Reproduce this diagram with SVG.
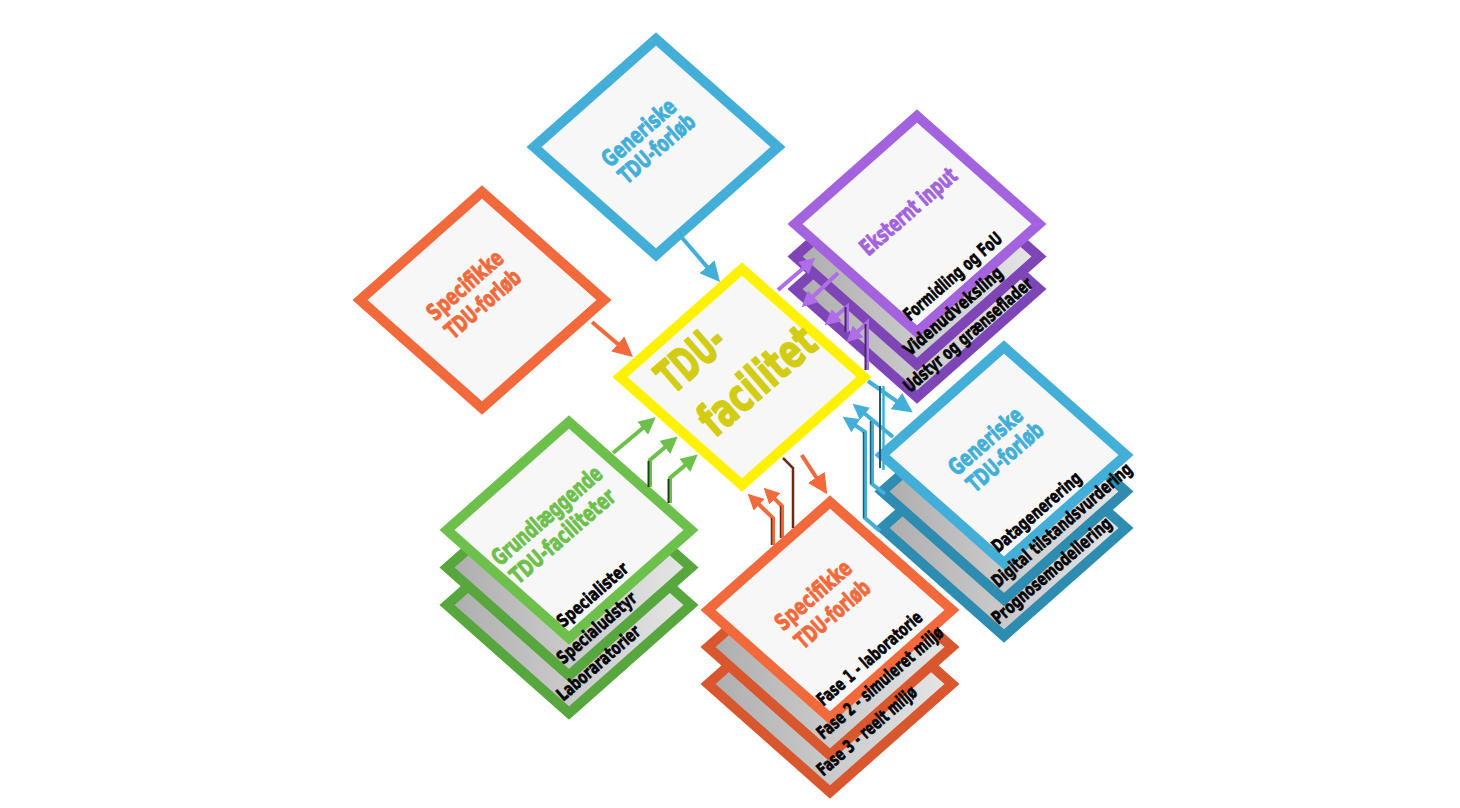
<svg xmlns="http://www.w3.org/2000/svg" width="1460" height="808" viewBox="0 0 1460 808">
<style>
.card{fill:#f7f7f7;stroke-width:10;stroke-linejoin:miter}
.lay{fill:url(#gray);stroke-width:10;stroke-linejoin:miter}
.bl{stroke:#43afd8}.bl2{stroke:#2e8cb0}
.or{stroke:#f26a3b}.or2{stroke:#d8572e}
.gr{stroke:#6ec04c}.gr2{stroke:#58a63e}
.pu{stroke:#a463de}.pu2{stroke:#7e45b6}
.ye{stroke:#fff200}
.t{font-family:"DejaVu Sans Condensed","Liberation Sans Narrow","DejaVu Sans","Liberation Sans",sans-serif;font-weight:bold;stroke-linejoin:round}
.ti{font-size:23px;stroke-width:0.9}
.lb{font-size:18px;fill:#000;stroke:#000;stroke-width:0.6}
.big{font-size:46px;fill:#d2cc12;stroke:#d2cc12;stroke-width:1.6}
.tb{fill:#43afd8;stroke:#43afd8}
.to{fill:#f26a3b;stroke:#f26a3b}
.tg{fill:#6ec04c;stroke:#6ec04c}
.tp{fill:#a463de;stroke:#a463de}
.c path{fill:none;stroke-width:4}
</style>
<defs>
<path id="rh" d="M0,-108 L122,0 L0,108 L-122,0 Z"/>
<linearGradient id="gray" x1="0" y1="0" x2="1" y2="0">
<stop offset="0" stop-color="#adadad"/><stop offset="1" stop-color="#e6e6e6"/>
</linearGradient>
<marker id="mbL" viewBox="0 0 10 10" refX="5" refY="5" markerWidth="20" markerHeight="20" markerUnits="userSpaceOnUse" orient="auto"><path d="M0,0L10,5L0,10z" fill="#43afd8"/></marker>
<marker id="mbS" viewBox="0 0 10 10" refX="5" refY="5" markerWidth="16" markerHeight="16" markerUnits="userSpaceOnUse" orient="auto"><path d="M0,0L10,5L0,10z" fill="#43afd8"/></marker>
<marker id="moL" viewBox="0 0 10 10" refX="5" refY="5" markerWidth="20" markerHeight="20" markerUnits="userSpaceOnUse" orient="auto"><path d="M0,0L10,5L0,10z" fill="#f26a3b"/></marker>
<marker id="moS" viewBox="0 0 10 10" refX="5" refY="5" markerWidth="16" markerHeight="16" markerUnits="userSpaceOnUse" orient="auto"><path d="M0,0L10,5L0,10z" fill="#f26a3b"/></marker>
<marker id="mgS" viewBox="0 0 10 10" refX="5" refY="5" markerWidth="17" markerHeight="17" markerUnits="userSpaceOnUse" orient="auto"><path d="M0,0L10,5L0,10z" fill="#6ec04c"/></marker>
<marker id="mpS" viewBox="0 0 10 10" refX="5" refY="5" markerWidth="16" markerHeight="16" markerUnits="userSpaceOnUse" orient="auto"><path d="M0,0L10,5L0,10z" fill="#b06ee6"/></marker>
</defs>
<rect width="1460" height="808" fill="#ffffff"/>

<g id="generiske-top">
<use href="#rh" class="card bl" transform="translate(656,147)"/>
<text class="t ti tb" transform="translate(610,168.3) rotate(-41)" textLength="90" lengthAdjust="spacingAndGlyphs">Generiske</text>
<text class="t ti tb" transform="translate(626.7,185) rotate(-41)" textLength="93" lengthAdjust="spacingAndGlyphs">TDU-forløb</text>
</g>

<g id="specifikke-left">
<use href="#rh" class="card or" transform="translate(482,300)"/>
<text class="t ti to" transform="translate(435,321.7) rotate(-41)" textLength="93" lengthAdjust="spacingAndGlyphs">Specifikke</text>
<text class="t ti to" transform="translate(453.3,340) rotate(-41)" textLength="92" lengthAdjust="spacingAndGlyphs">TDU-forløb</text>
</g>

<g id="eksternt-input">
<use href="#rh" class="lay pu2" transform="translate(917,289)"/>
<use href="#rh" class="lay pu2" transform="translate(917,256.5)"/>
<use href="#rh" class="card pu" transform="translate(917,224)"/>
<text class="t lb" transform="translate(910,393.3) rotate(-41)" textLength="164" lengthAdjust="spacingAndGlyphs">Udstyr og grænseflader</text>
<text class="t lb" transform="translate(910,356.7) rotate(-41)" textLength="125" lengthAdjust="spacingAndGlyphs">Videnudveksling</text>
<text class="t lb" transform="translate(910,321.7) rotate(-41)" textLength="124" lengthAdjust="spacingAndGlyphs">Formidling og FoU</text>
<text class="t ti tp" transform="translate(868.3,256.7) rotate(-41)" textLength="120" lengthAdjust="spacingAndGlyphs">Eksternt input</text>
</g>

<g id="generiske-right">
<use href="#rh" class="lay bl2" transform="translate(1004,528)"/>
<use href="#rh" class="lay bl2" transform="translate(1004,491.5)"/>
<use href="#rh" class="card bl" transform="translate(1004,455)"/>
<text class="t lb" transform="translate(998.3,625) rotate(-41)" textLength="152" lengthAdjust="spacingAndGlyphs">Prognosemodellering</text>
<text class="t lb" transform="translate(998.3,588.3) rotate(-41)" textLength="179" lengthAdjust="spacingAndGlyphs">Digital tilstandsvurdering</text>
<text class="t lb" transform="translate(998.3,553.3) rotate(-41)" textLength="112" lengthAdjust="spacingAndGlyphs">Datagenerering</text>
<text class="t ti tb" transform="translate(956.7,476.7) rotate(-41)" textLength="90" lengthAdjust="spacingAndGlyphs">Generiske</text>
<text class="t ti tb" transform="translate(975,493.3) rotate(-41)" textLength="93" lengthAdjust="spacingAndGlyphs">TDU-forløb</text>
</g>

<g id="specifikke-bottom">
<use href="#rh" class="lay or2" transform="translate(830,684)"/>
<use href="#rh" class="lay or2" transform="translate(830,647)"/>
<use href="#rh" class="card or" transform="translate(830,610)"/>
<text class="t lb" transform="translate(823.3,776.7) rotate(-41)" textLength="126" lengthAdjust="spacingAndGlyphs">Fase 3 - reelt miljø</text>
<text class="t lb" transform="translate(823.3,740) rotate(-41)" textLength="161" lengthAdjust="spacingAndGlyphs">Fase 2 - simuleret miljø</text>
<text class="t lb" transform="translate(823.3,706.7) rotate(-41)" textLength="133" lengthAdjust="spacingAndGlyphs">Fase 1 - laboratorie</text>
<text class="t ti to" transform="translate(783.3,631.7) rotate(-41)" textLength="93" lengthAdjust="spacingAndGlyphs">Specifikke</text>
<text class="t ti to" transform="translate(803.3,650) rotate(-41)" textLength="91" lengthAdjust="spacingAndGlyphs">TDU-forløb</text>
</g>

<g id="grundlaeggende">
<use href="#rh" class="lay gr2" transform="translate(569,605)"/>
<use href="#rh" class="lay gr2" transform="translate(569,567.5)"/>
<use href="#rh" class="card gr" transform="translate(569,530)"/>
<text class="t lb" transform="translate(563.3,701.7) rotate(-41)" textLength="104" lengthAdjust="spacingAndGlyphs">Laboraratorier</text>
<text class="t lb" transform="translate(563.3,665) rotate(-41)" textLength="99" lengthAdjust="spacingAndGlyphs">Specialudstyr</text>
<text class="t lb" transform="translate(563.3,628.3) rotate(-41)" textLength="88" lengthAdjust="spacingAndGlyphs">Specialister</text>
<text class="t ti tg" transform="translate(500,566.7) rotate(-41)" textLength="138" lengthAdjust="spacingAndGlyphs">Grundlæggende</text>
<text class="t ti tg" transform="translate(518.3,585) rotate(-41)" textLength="131" lengthAdjust="spacingAndGlyphs">TDU-faciliteter</text>
</g>

<g id="tdu-facilitet">
<use href="#rh" class="card ye" transform="translate(742,377)"/>
<text class="t big" transform="translate(673.3,395) rotate(-41)" textLength="75" lengthAdjust="spacingAndGlyphs">TDU-</text>
<text class="t big" transform="translate(715,438.3) rotate(-41)" textLength="139" lengthAdjust="spacingAndGlyphs">facilitet</text>
</g>

<g id="connectors" class="c">
<path d="M678,233 L713.5,274.4" stroke="#43afd8" marker-end="url(#mbL)"/>
<path d="M592,322 L625.4,350.5" stroke="#f26a3b" marker-end="url(#moL)"/>
<path d="M613,453 L649.2,422.8" stroke="#6ec04c" marker-end="url(#mgS)"/>
<path d="M650,487 L650,460 L671.3,441.9" stroke="#6ec04c" marker-end="url(#mgS)"/>
<path d="M670,503 L670,478 L691.3,459.9" stroke="#6ec04c" marker-end="url(#mgS)"/>
<path d="M648.5,487 L648.5,461" stroke="#24401a" style="stroke-width:2"/>
<path d="M668.5,503 L668.5,479" stroke="#24401a" style="stroke-width:2"/>
<path d="M778,290 L809.3,262.9" stroke="#b06ee6" marker-end="url(#mpS)"/>
<path d="M838,273 L807.5,301.8" stroke="#b06ee6" marker-end="url(#mpS)"/>
<path d="M847,332 L847,307 L830.8,320.2" stroke="#b06ee6" marker-end="url(#mpS)"/>
<path d="M867,370 L867,323 L852.4,336.8" stroke="#b06ee6" marker-end="url(#mpS)"/>
<path d="M845.5,332 L845.5,307" stroke="#4a2470" style="stroke-width:2"/>
<path d="M865.5,370 L865.5,324" stroke="#4a2470" style="stroke-width:2"/>
<path d="M868,381 L904.6,406.8" stroke="#43afd8" marker-end="url(#mbL)"/>
<path d="M880,531 L865,518 L865,432 L849.2,421.2" stroke="#43afd8" marker-end="url(#mbS)"/>
<path d="M893,437 L858.8,408.8" stroke="#43afd8" marker-end="url(#mbS)"/>
<path d="M885,494 L872,484 L872,420" stroke="#43afd8"/>
<path d="M863.5,518 L863.5,432" stroke="#1e5c75" style="stroke-width:1.5"/>
<path d="M870.5,484 L870.5,421" stroke="#1e5c75" style="stroke-width:1.5"/>
<path d="M880,386 L880,468" stroke="#1e5c75" style="stroke-width:2"/>
<path d="M883.5,386 L883.5,470" stroke="#43afd8" style="stroke-width:2.5"/>
<path d="M801.7,455 L821.8,485.8" stroke="#f26a3b" marker-end="url(#moL)"/>
<path d="M773,545 L773,518 L753.4,499.2" stroke="#f26a3b" marker-end="url(#moS)"/>
<path d="M782,538 L782,506 L769.3,493.3" stroke="#f26a3b" marker-end="url(#moS)"/>
<path d="M771.5,545 L771.5,518" stroke="#6b2a14" style="stroke-width:1.5"/>
<path d="M780.5,538 L780.5,506" stroke="#6b2a14" style="stroke-width:1.5"/>
<path d="M783,458 L793,468 L793,528" stroke="#6b2a14" style="stroke-width:2.5"/>
</g>
</svg>
